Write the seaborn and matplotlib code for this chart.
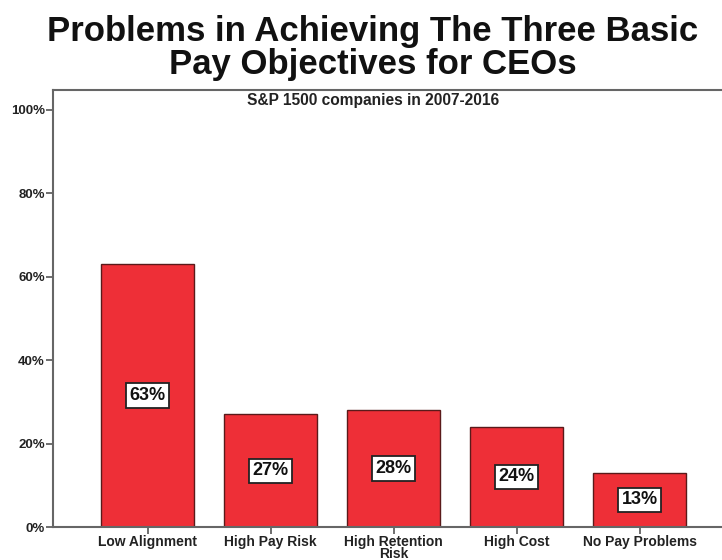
import matplotlib
matplotlib.use("Agg")
import matplotlib.pyplot as plt
import seaborn as sns
import pandas as pd

categories = ["Low Alignment", "High Pay Risk", "High Retention\nRisk", "High Cost", "No Pay Problems"]
shares = [63, 27, 28, 24, 13]
value_labels = ["63%", "27%", "28%", "24%", "13%"]
y_ticks = [0, 20, 40, 60, 80, 100]
y_tick_labels = ["0%", "20%", "40%", "60%", "80%", "100%"]

title = "Problems in Achieving The Three Basic\nPay Objectives for CEOs"
subtitle = "S&P 1500 companies in 2007-2016"

sns.set_style("white")
plt.rcParams["font.family"] = ["Liberation Sans", "DejaVu Sans"]

df = pd.DataFrame({"category": categories, "share": shares})

fig = plt.figure(figsize=(7.22, 5.6), dpi=100)
ax = fig.add_axes([53 / 722, 1 - 527 / 560, 1 - 53 / 722, (527 - 90) / 560])

sns.barplot(data=df, x="category", y="share", color="#EE2F37", saturation=1,
            width=0.755, edgecolor="#5a1a1a", linewidth=1.0, ax=ax)

# value boxes centred inside each bar
for patch, lab in zip(ax.patches, value_labels):
    xc = patch.get_x() + patch.get_width() / 2
    yc = patch.get_height() / 2
    ax.text(xc, yc, lab, ha="center", va="center", fontsize=13, fontweight="bold",
            color="#111111",
            bbox=dict(boxstyle="square,pad=0.2", facecolor="white", edgecolor="#222222", linewidth=1.3))

ax.set_xlim(-0.77, 4.67)
ax.set_ylim(0, 104.7)
ax.set_yticks(y_ticks)
ax.set_yticklabels(y_tick_labels, fontsize=9.5, fontweight="bold", color="#222222")
ax.tick_params(axis="y", direction="out", length=5, width=1.2, color="#555555", pad=1, left=True)
ax.tick_params(axis="x", direction="out", length=5, width=1.2, color="#555555", pad=1, bottom=True)
for t in ax.get_xticklabels():
    t.set_fontsize(10)
    t.set_fontweight("bold")
    t.set_color("#222222")
    t.set_linespacing(0.75)
ax.set_xlabel("")
ax.set_ylabel("")

for side in ["left", "bottom", "top"]:
    ax.spines[side].set_visible(True)
    ax.spines[side].set_color("#666666")
    ax.spines[side].set_linewidth(1.5)
ax.spines["right"].set_visible(False)

fig.text(373 / 722, 1 - 101 / 560, subtitle, ha="center", va="center",
         fontsize=11.2, fontweight="bold", color="#222222")

fig.text(373 / 722, 1 - 48 / 560, title, ha="center", va="center",
         fontsize=25, fontweight="bold", color="#111111", linespacing=1.0)

fig.savefig("out.png", dpi=100)
